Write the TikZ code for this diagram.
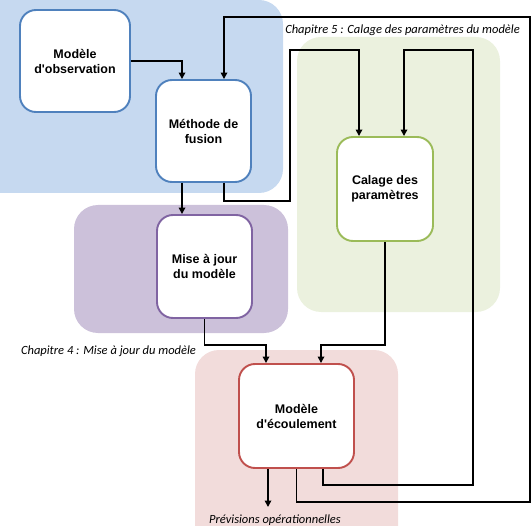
\documentclass[tikz,border=0pt]{standalone}
\usepackage{fontspec}
\newfontfamily\boxfont{Liberation Sans}
\newfontfamily\chapfont{Carlito}
\usetikzlibrary{arrows.meta,calc}

\definecolor{zblue}{RGB}{198,217,240}
\definecolor{zpurple}{RGB}{204,193,218}
\definecolor{zgreen}{RGB}{235,241,222}
\definecolor{zred}{RGB}{242,220,219}
\definecolor{lblue}{RGB}{79,129,189}
\definecolor{lpurple}{RGB}{128,100,162}
\definecolor{lgreen}{RGB}{155,187,89}
\definecolor{lred}{RGB}{192,80,77}

\begin{document}
\begin{tikzpicture}[x=1pt,y=-1pt,
  zone/.style={fill=#1,rounded corners=24pt},
  block/.style={draw=#1,fill=white,line width=1.9pt,rounded corners=16pt,
    align=center,inner sep=0pt,
    font=\boxfont\bfseries\fontsize{12.5}{15}\selectfont},
  link/.style={line width=1.6pt,-{Triangle[length=6.5pt,width=6.5pt]}},
  chap/.style={font=\chapfont\itshape\fontsize{12.5}{14}\selectfont,inner sep=0pt}]
  \useasboundingbox (0,0) rectangle (532,526);
  \clip (0,0) rectangle (532,526);

  % zones
  \fill[zone=zblue] (-25,0) rectangle (283,193);
  \fill[zone=zpurple] (74,205) rectangle (288,333);
  \fill[zone=zgreen] (297,37) rectangle (500,312);
  \fill[zone=zred] (195,350) rectangle (398,560);

  % blocs
  \node[block=lblue,minimum width=110pt,minimum height=102pt] (obs) at (75,61) {Modèle\\d'observation};
  \node[block=lblue,minimum width=95pt,minimum height=102pt] (fusion) at (203.5,131) {Méthode de\\fusion};
  \node[block=lpurple,minimum width=95pt,minimum height=103pt] (maj) at (204.5,266.5) {Mise à jour\\du modèle};
  \node[block=lgreen,minimum width=96pt,minimum height=104pt] (calage) at (385,189) {Calage des\\paramètres};
  \node[block=lred,minimum width=115pt,minimum height=104pt] (ecoul) at (296.5,416) {Modèle\\d'écoulement};

  \node[chap] (chap5) at (402.5,30) {Chapitre 5 : Calage des paramètres du modèle};
  \node[chap] (chap4) at (108.5,351) {Chapitre 4 : Mise à jour du modèle};
  \node[chap] (prev) at (275,520) {Prévisions opérationnelles};
  \coordinate (out) at (268,507);

  % liens
  \draw[link] (obs.east) -| ([xshift=-21.5pt]fusion.north);
  \draw[link] ([xshift=-21.5pt]fusion.south) -- ([xshift=-21.5pt]fusion.south |- maj.north);
  \draw[link] ([xshift=20.5pt]fusion.south) -- ++(0,18) -| (290,50) -| ([xshift=-26pt]calage.north);
  \draw[link] (maj.south) -- ++(0,26) -| ([xshift=-30.5pt]ecoul.north);
  \draw[link] (calage.south) -- ++(0,103) -| ([xshift=24.5pt]ecoul.north);
  \draw[link] ([xshift=-28.5pt]ecoul.south) -- (ecoul.south -| out) -- (out);
  \draw[link] ([xshift=26.5pt]ecoul.south) -- ++(0,16) -| (473,50) -| ([xshift=19pt]calage.north);
  \draw[link] (ecoul.south) -- ++(0,33) -| (530,17) -| ([xshift=20.5pt]fusion.north);
\end{tikzpicture}
\end{document}
